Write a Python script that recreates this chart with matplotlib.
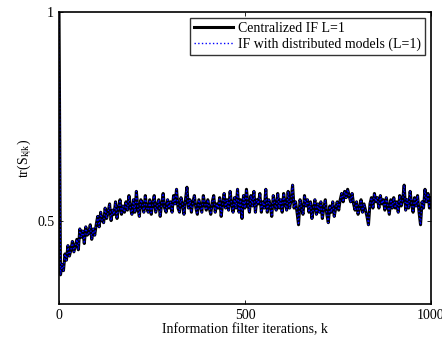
import numpy as np
import matplotlib
matplotlib.use("Agg")
import matplotlib.pyplot as plt

plt.rcParams['font.family'] = ['Liberation Serif', 'DejaVu Serif']
plt.rcParams['mathtext.fontset'] = 'stix'

step = 4
values = [
    1.00, 0.37, 0.395, 0.38, 0.42, 0.405, 0.44, 0.415, 0.43, 0.45, 0.425, 0.44, 0.455, 0.43, 0.48, 0.46, 0.475, 0.445, 0.485, 0.465, 0.47, 0.49, 0.455, 0.48, 0.465,
    0.49, 0.51, 0.485, 0.52, 0.50, 0.495, 0.53, 0.505, 0.52, 0.54, 0.50, 0.525, 0.515, 0.545, 0.505, 0.53, 0.55, 0.515, 0.535, 0.52, 0.545, 0.525, 0.56, 0.53, 0.515,
    0.55, 0.52, 0.57, 0.53, 0.51, 0.55, 0.54, 0.52, 0.56, 0.53, 0.52, 0.55, 0.515, 0.54, 0.56, 0.52, 0.535, 0.55, 0.51, 0.54, 0.565, 0.53, 0.52, 0.55, 0.53,
    0.545, 0.52, 0.56, 0.54, 0.575, 0.53, 0.52, 0.555, 0.54, 0.515, 0.55, 0.58, 0.53, 0.55, 0.52, 0.545, 0.56, 0.53, 0.515, 0.55, 0.535, 0.52, 0.56, 0.54, 0.525,
    0.55, 0.53, 0.515, 0.545, 0.56, 0.52, 0.54, 0.53, 0.555, 0.51, 0.54, 0.565, 0.53, 0.55, 0.525, 0.57, 0.54, 0.52, 0.555, 0.53, 0.575, 0.52, 0.55, 0.505, 0.56,
    0.53, 0.575, 0.54, 0.52, 0.56, 0.535, 0.57, 0.52, 0.55, 0.54, 0.565, 0.52, 0.545, 0.53, 0.575, 0.52, 0.55, 0.535, 0.51, 0.56, 0.54, 0.525, 0.565, 0.53, 0.55,
    0.52, 0.565, 0.54, 0.525, 0.57, 0.53, 0.55, 0.585, 0.53, 0.545, 0.52, 0.49, 0.55, 0.53, 0.515, 0.56, 0.535, 0.55, 0.52, 0.545, 0.505, 0.53, 0.55, 0.515, 0.54,
    0.52, 0.545, 0.505, 0.53, 0.55, 0.515, 0.495, 0.535, 0.52, 0.545, 0.51, 0.53, 0.545, 0.525, 0.55, 0.565, 0.545, 0.57, 0.555, 0.575, 0.56, 0.545, 0.565, 0.54, 0.525,
    0.545, 0.515, 0.53, 0.55, 0.52, 0.54, 0.525, 0.51, 0.49, 0.54, 0.555, 0.53, 0.565, 0.545, 0.555, 0.53, 0.56, 0.54, 0.55, 0.525, 0.555, 0.535, 0.515, 0.55, 0.53,
    0.555, 0.53, 0.545, 0.52, 0.56, 0.535, 0.55, 0.585, 0.525, 0.55, 0.53, 0.57, 0.54, 0.52, 0.555, 0.535, 0.56, 0.52, 0.49, 0.545, 0.53, 0.575, 0.545, 0.565, 0.53,
    0.555,
]
iterations = np.arange(len(values)) * step

centralized = values
distributed = values

x_ticks = [0, 500, 1000]
y_ticks = [0.5, 1]
y_tick_labels = ['0.5', '1']

fig = plt.figure(figsize=(4.42, 3.39), dpi=100)
ax = fig.add_axes([0.1335, 0.1032, 0.975 - 0.1335, 0.9646 - 0.1032])

ax.plot(iterations, centralized, color='black', lw=2.2, label='Centralized IF L=1')
ax.plot(iterations, distributed, color='blue', lw=1.0, ls=':', label='IF with distributed models (L=1)')

ax.set_xlim(0, 1000)
ax.set_ylim(0.3, 1.0)
ax.set_xticks(x_ticks)
ax.set_yticks(y_ticks)
ax.set_yticklabels(y_tick_labels)
ax.tick_params(direction='in', top=True, right=True, labelsize=10, length=3, width=0.6)
for s in ax.spines.values():
    s.set_linewidth(1.2)

ax.set_xlabel('Information filter iterations, k', fontsize=10, labelpad=1)
ax.set_ylabel(r'tr(S$_{\mathregular{k|k}}$)', fontsize=10, labelpad=2)

leg = ax.legend(loc='upper right', fontsize=10, frameon=True, fancybox=False,
                edgecolor='black', borderpad=0.3, labelspacing=0.2, handlelength=2.8,
                handletextpad=0.4, borderaxespad=0.4)
leg.get_frame().set_linewidth(1.0)

fig.savefig('out.png', dpi=100)
